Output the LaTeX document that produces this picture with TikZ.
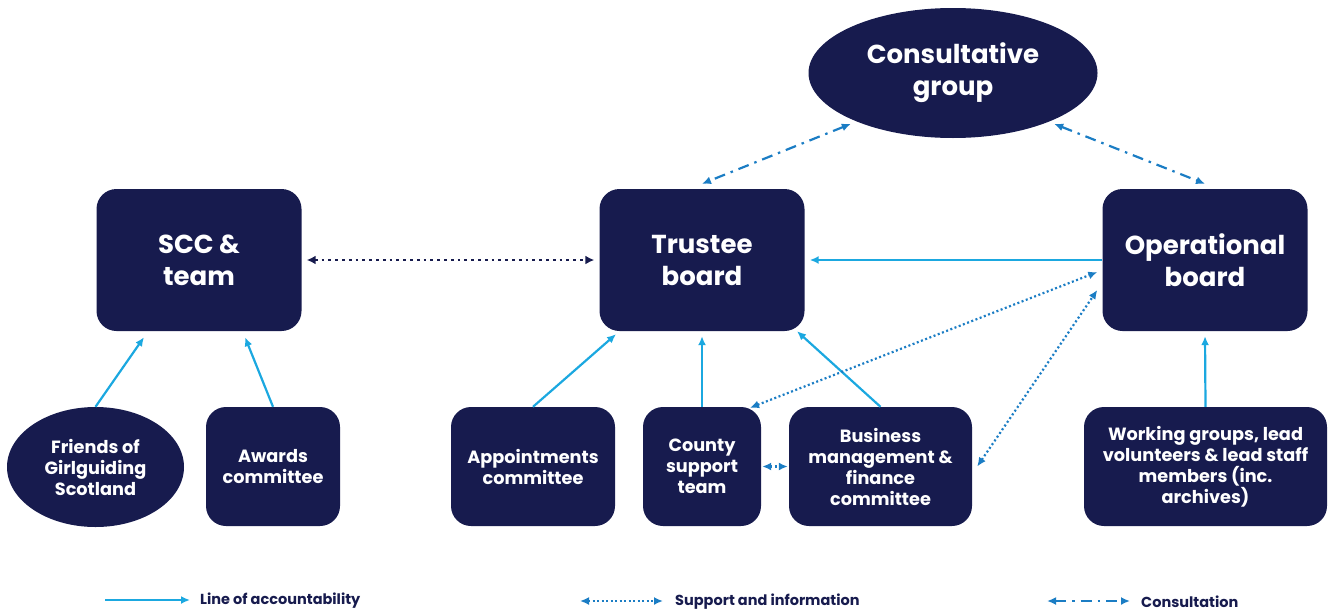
\documentclass[tikz,border=0pt]{standalone}
\usepackage{fontspec}
\setmainfont{Poppins}
\usetikzlibrary{arrows.meta,shapes.geometric,calc}
\definecolor{navy}{HTML}{171B4E}
\definecolor{acc}{HTML}{1BA8E0}
\definecolor{sup}{HTML}{1B7DC4}
\begin{document}
\begin{tikzpicture}[x=1pt,y=-1pt,
  box/.style={fill=navy,rounded corners=20pt,text=white,align=center,inner sep=0pt,
    minimum height=119pt,font=\bfseries\fontsize{17.7}{21}\selectfont},
  bigbox/.style={box,minimum width=205pt,minimum height=142pt,font=\bfseries\fontsize{26}{32}\selectfont},
  oval/.style={ellipse,fill=navy,text=white,align=center,inner sep=0pt},
  acct/.style={draw=acc,line width=2.2pt,-{Latex[length=9pt,width=8pt]}},
  supp/.style={draw=sup,line width=2.2pt,dash pattern=on 2pt off 2.5pt,
    {Latex[length=9pt,width=8pt]}-{Latex[length=9pt,width=8pt]}},
  dark/.style={draw=navy,line width=2.8pt,dash pattern=on 2.8pt off 4pt,
    {Latex[length=9pt,width=9pt]}-{Latex[length=9pt,width=9pt]}},
  cons/.style={draw=sup,line width=2.2pt,dash pattern=on 11pt off 6pt on 2.5pt off 6pt,
    {Latex[length=9pt,width=8pt]}-{Latex[length=9pt,width=8pt]}},
  legend/.style={anchor=west,text=navy,inner sep=0pt,font=\bfseries\fontsize{14.5}{17}\selectfont}
]
\useasboundingbox (0,0) rectangle (1329,613);

% main nodes
\node[oval,minimum width=289pt,minimum height=130pt,font=\bfseries\fontsize{26}{32}\selectfont]
  (consult) at (953,73) {Consultative\\group};
\node[bigbox] (scc) at (199,260) {SCC \&\\team};
\node[bigbox] (trustee) at (702,260) {Trustee\\board};
\node[bigbox] (oper) at (1205,260) {Operational\\board};

\node[oval,minimum width=177pt,minimum height=120pt,font=\bfseries\fontsize{17.7}{21}\selectfont]
  (friends) at (95.5,467) {Friends of\\Girlguiding\\Scotland};
\node[box,minimum width=134pt] (awards) at (273,466.5) {Awards\\committee};
\node[box,minimum width=164pt] (appoint) at (533,466.5) {Appointments\\committee};
\node[box,minimum width=118pt] (county) at (702,466.5) {County\\support\\team};
\node[box,minimum width=183pt] (business) at (880.5,466.5) {Business\\management \&\\finance\\committee};
\node[box,minimum width=243pt] (working) at (1205.5,466.5) {Working groups, lead\\volunteers \& lead staff\\members (inc.\\archives)};

% accountability
\draw[acct] (friends.north) -- ([xshift=-55pt,yshift=-6pt]scc.south);
\draw[acct] (awards.north) -- ([xshift=46pt,yshift=-6pt]scc.south);
\draw[acct] (appoint.north) -- ([xshift=-86pt,yshift=-3pt]trustee.south);
\draw[acct] (county.north) -- ([yshift=-5pt]trustee.south);
\draw[acct] (business.north) -- ([xshift=95pt,yshift=0pt]trustee.south);
\draw[acct] (oper.west) -- ([xshift=5pt]trustee.east);
\draw[acct] (working.north) -- ([yshift=-5pt]oper.south);

% support and information
\draw[dark] ([xshift=5pt]scc.east) -- ([xshift=-5pt]trustee.west);
\draw[supp] ([xshift=48pt,yshift=-1pt]county.north) -- ([xshift=-5pt,yshift=-12pt]oper.west);
\draw[supp] ([xshift=5pt]business.east) -- ([xshift=-5pt,yshift=-30pt]oper.west);
\draw[supp] ([xshift=1pt]county.east) -- ([xshift=-1pt]business.west);

% consultation
\draw[cons] ([xshift=-4pt,yshift=-3pt]consult.206) -- ([yshift=5pt]trustee.north);
\draw[cons] ([xshift=3pt,yshift=-3pt]consult.334) -- ([yshift=5pt]oper.north);

% legend
\coordinate (l1a) at (105,600);
\coordinate (l1b) at (190,600);
\coordinate (l2a) at (580,601);
\coordinate (l2b) at (663,601);
\coordinate (l3a) at (1047,601);
\coordinate (l3b) at (1130,601);
\draw[acct] (l1a) -- (l1b);
\draw[supp] (l2a) -- (l2b);
\draw[cons] (l3a) -- (l3b);
\node[legend] (t1) at (200,601) {Line of accountability};
\node[legend] (t2) at (675,602) {Support and information};
\node[legend] (t3) at (1141,602) {Consultation};
\end{tikzpicture}
\end{document}
